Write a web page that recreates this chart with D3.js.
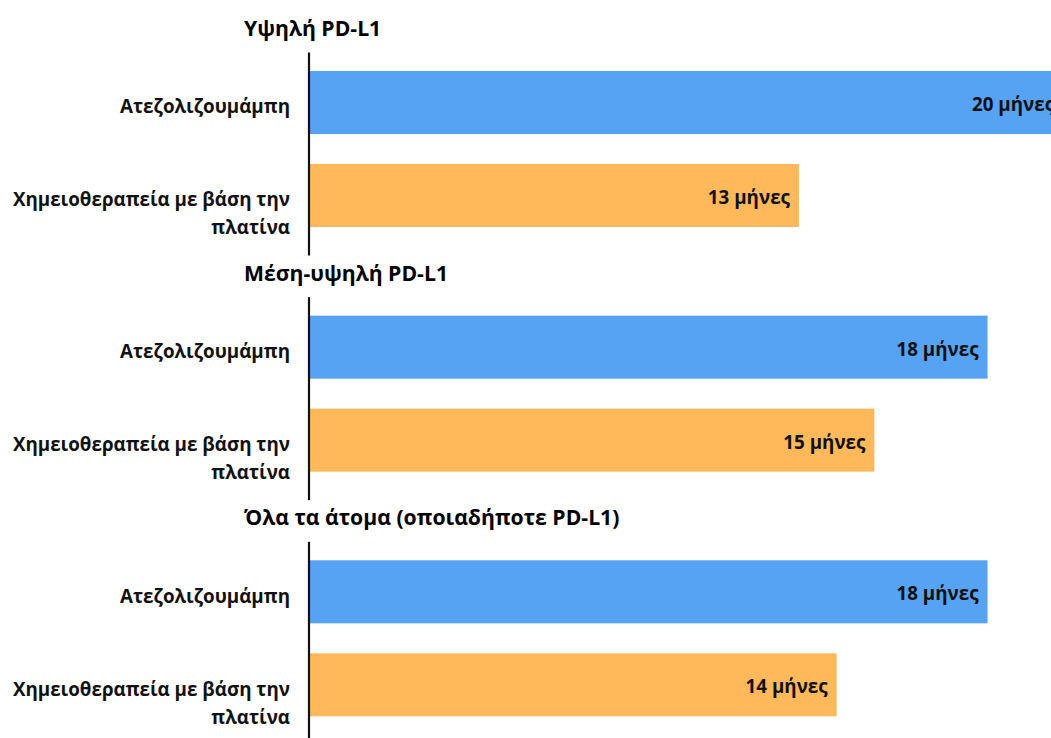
<!DOCTYPE html>
<html lang="el">
<head>
<meta charset="utf-8">
<title>Συνολική επιβίωση ανά έκφραση PD-L1</title>
<script src="https://cdn.jsdelivr.net/npm/d3@7"></script>
<style>
  html, body { margin: 0; padding: 0; background: #fff; overflow: hidden; }
  svg { display: block; font-family: "Open Sans", "Noto Sans", sans-serif; font-weight: 700; }
</style>
</head>
<body>
<svg id="chart" width="1051" height="738"></svg>
<script>
// Median survival, in months, per PD-L1 subgroup
const groups = ["Υψηλή PD-L1", "Μέση-υψηλή PD-L1", "Όλα τα άτομα (οποιαδήποτε PD-L1)"];
const treatments = ["Ατεζολιζουμάμπη", "Χημειοθεραπεία με βάση την πλατίνα"];
const atezolizumab = [20, 18, 18];
const chemotherapy = [13, 15, 14];
const unit = "μήνες";
const colors = ["#56A3F3", "#FFB95A"];

const width = 1051, height = 738;
const svg = d3.select("#chart");

// Horizontal value scale (months)
const x = d3.scaleLinear().domain([0, 20]).range([308.5, 1063]);

// One block per subgroup, stacked vertically
const yGroup = d3.scaleBand().domain(groups).range([0, 734]);

// Bars inside each block
const yBar = d3.scaleBand().domain(treatments)
  .range([52, 255])
  .paddingInner(0.3226)
  .paddingOuter(0.2527)
  .align(0.404);

const labelRight = 290;
const labelSize = 18.8;
const titleSize = 21.2;
const valueSize = 18.8;

function wrapText(textSel, maxWidth, lineHeight) {
  textSel.each(function () {
    const t = d3.select(this);
    const words = t.text().split(/\s+/);
    const xPos = t.attr("x");
    t.text(null);
    let line = [];
    let tspan = t.append("tspan").attr("x", xPos).attr("dy", 0);
    for (const w of words) {
      line.push(w);
      tspan.text(line.join(" "));
      if (tspan.node().getComputedTextLength() > maxWidth && line.length > 1) {
        line.pop();
        tspan.text(line.join(" "));
        line = [w];
        tspan = t.append("tspan").attr("x", xPos).attr("dy", lineHeight).text(w);
      }
    }
  });
}

groups.forEach((g, i) => {
  const block = svg.append("g").attr("transform", `translate(0,${yGroup(g)})`);
  const values = [atezolizumab[i], chemotherapy[i]];

  // Subgroup heading
  block.append("text")
    .attr("x", 244)
    .attr("y", 28.5)
    .attr("dy", "0.35em")
    .attr("font-size", titleSize)
    .attr("fill", "#000")
    .text(g);

  // Bars
  block.selectAll("rect.bar")
    .data(treatments)
    .join("rect")
    .attr("class", "bar")
    .attr("x", x(0))
    .attr("y", d => yBar(d))
    .attr("width", (d, j) => x(values[j]) - x(0))
    .attr("height", yBar.bandwidth())
    .attr("fill", (d, j) => colors[j]);

  // Value labels, right-aligned inside each bar
  block.selectAll("text.value")
    .data(treatments)
    .join("text")
    .attr("class", "value")
    .attr("x", (d, j) => x(values[j]) - 9)
    .attr("y", d => yBar(d) + yBar.bandwidth() / 2 + 2)
    .attr("dy", "0.35em")
    .attr("text-anchor", "end")
    .attr("font-size", valueSize)
    .attr("fill", "#111")
    .text((d, j) => `${values[j]} ${unit}`);

  // Category labels on the left, wrapped when too long
  block.selectAll("text.cat")
    .data(treatments)
    .join("text")
    .attr("class", "cat")
    .attr("x", labelRight)
    .attr("y", d => yBar(d) + yBar.bandwidth() / 2 + 11)
    .attr("dy", "0.35em")
    .attr("text-anchor", "end")
    .attr("font-size", labelSize)
    .attr("fill", "#111")
    .text(d => d)
    .call(wrapText, 285, 28);

  // Category axis line
  const axis = d3.axisLeft(yBar).tickSize(0).tickFormat("").tickSizeOuter(0);
  const axisG = block.append("g")
    .attr("transform", `translate(${x(0)},0)`)
    .call(axis);
  axisG.select(".domain").attr("stroke", "#111").attr("stroke-width", 2.2);
});
</script>
</body>
</html>
